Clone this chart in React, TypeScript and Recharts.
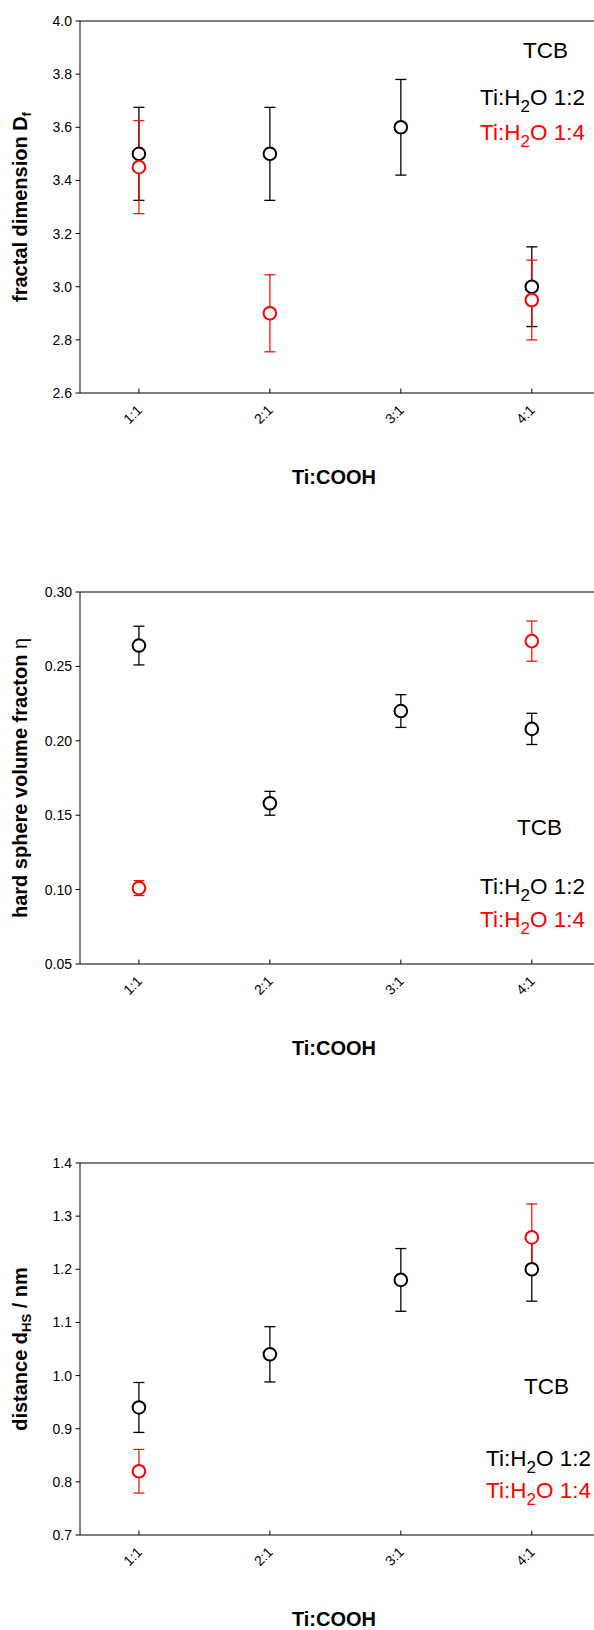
import { ScatterChart, Scatter, XAxis, YAxis, ErrorBar, ReferenceLine, Label } from "recharts"

const categories = ["1:1", "2:1", "3:1", "4:1"]
const xTicks = [1, 2, 3, 4]

// fractal dimension D_f
const dfH2O12 = [3.5, 3.5, 3.6, 3.0]
const dfH2O12Err = [0.175, 0.175, 0.18, 0.15]
const dfH2O14 = [3.45, 2.9, null, 2.95]
const dfH2O14Err = [0.175, 0.145, null, 0.15]
const dfTicks = [2.6, 2.8, 3.0, 3.2, 3.4, 3.6, 3.8, 4.0]

// hard sphere volume fraction
const etaH2O12 = [0.264, 0.158, 0.22, 0.208]
const etaH2O12Err = [0.013, 0.008, 0.011, 0.0105]
const etaH2O14 = [0.101, null, null, 0.267]
const etaH2O14Err = [0.005, null, null, 0.0135]
const etaTicks = [0.05, 0.1, 0.15, 0.2, 0.25, 0.3]

// hard sphere distance d_HS
const dH2O12 = [0.94, 1.04, 1.18, 1.2]
const dH2O12Err = [0.047, 0.052, 0.059, 0.06]
const dH2O14 = [0.82, null, null, 1.26]
const dH2O14Err = [0.041, null, null, 0.063]
const dTicks = [0.7, 0.8, 0.9, 1.0, 1.1, 1.2, 1.3, 1.4]

const BLACK = "#000000"
const RED = "#ff0000"

type Row = { x: number; y: number; err: number }

function toRows(vals: (number | null)[], errs: (number | null)[]): Row[] {
    const rows: Row[] = []
    vals.forEach((v, i) => {
        if (v != null) rows.push({ x: i + 1, y: v, err: errs[i] ?? 0 })
    })
    return rows
}

const circle = (color: string) => (p: any) =>
    <circle cx={p.cx} cy={p.cy} r={6.3} fill="#fff" stroke={color} strokeWidth={2} />

const XTick = (p: any) => {
    const { x, y, payload } = p
    const ax = x + 4
    const ay = y + 18
    return (
        <g>
            <line x1={x} y1={y} x2={x} y2={y - 4.5} stroke="#000" />
            <text x={ax} y={ay} textAnchor="end" fontSize={14} fill="#000" transform={`rotate(-45 ${ax} ${ay})`}>
                {categories[payload.value - 1]}
            </text>
        </g>
    )
}

const Legend = ({ x, y, gap, color, ratio }: { x: number; y: number; gap: number; color: string; ratio: string }) => (
    <text x={x} y={y + gap} fontSize={22.5} fill={color}>
        Ti:H<tspan dy={6.5} fontSize={17}>2</tspan>
        <tspan dy={-6.5}>O {ratio}</tspan>
    </text>
)

interface PanelProps {
    top: number
    ticks: number[]
    digits: number
    black: Row[]
    red: Row[]
    title: (cx: number, cy: number) => any
    tcb: [number, number]
    leg: [number, number]
    gap: number
}

function Panel({ top, ticks, digits, black, red, title, tcb, leg, gap }: PanelProps) {
    const lo = ticks[0]
    const hi = ticks[ticks.length - 1]
    return (
        <div style={{ position: "absolute", left: 0, top, width: 594, height: 487 }}>
            <ScatterChart width={594} height={487} margin={{ top: 20, right: 0, bottom: 0, left: 0 }}>
                <XAxis
                    type="number"
                    dataKey="x"
                    domain={[0.55, 4.475]}
                    ticks={xTicks}
                    interval={0}
                    allowDataOverflow
                    height={95}
                    tickSize={0}
                    tickMargin={0}
                    tickLine={false}
                    axisLine={{ stroke: "#000" }}
                    tick={(p: any) => <XTick {...p} />}
                >
                    <Label value="Ti:COOH" position="insideBottom" offset={4} dx={-3} fill="#000" fontSize={20} fontWeight="bold" />
                </XAxis>
                <YAxis
                    type="number"
                    dataKey="y"
                    domain={[lo, hi]}
                    ticks={ticks}
                    interval={0}
                    allowDataOverflow
                    width={80}
                    tickSize={4.5}
                    tickMargin={3.5}
                    axisLine={{ stroke: "#000" }}
                    tickLine={{ stroke: "#000" }}
                    tick={{ fill: "#000", fontSize: 14 }}
                    tickFormatter={(v: number) => v.toFixed(digits)}
                >
                    <Label content={(p: any) => title(27, p.viewBox.y + p.viewBox.height / 2)} />
                </YAxis>
                <ReferenceLine y={hi} stroke="#000" />
                <Scatter data={black} dataKey="y" isAnimationActive={false} shape={circle(BLACK)}>
                    <ErrorBar dataKey="err" direction="y" width={5.5} stroke={BLACK} strokeWidth={1.3} />
                </Scatter>
                <Scatter data={red} dataKey="y" isAnimationActive={false} shape={circle(RED)}>
                    <ErrorBar dataKey="err" direction="y" width={5.5} stroke={RED} strokeWidth={1.2} />
                </Scatter>
                <text x={tcb[0]} y={tcb[1]} fontSize={22.5} fill={BLACK}>TCB</text>
                <Legend x={leg[0]} y={leg[1]} gap={0} color={BLACK} ratio="1:2" />
                <Legend x={leg[0]} y={leg[1]} gap={gap} color={RED} ratio="1:4" />
            </ScatterChart>
        </div>
    )
}

const yTitle = (body: any) => (cx: number, cy: number) => (
    <text x={cx} y={cy} textAnchor="middle" fontSize={20} fontWeight="bold" fill="#000" transform={`rotate(-90 ${cx} ${cy})`}>
        {body}
    </text>
)

export default function App() {
    return (
        <div
            style={{
                position: "absolute",
                left: 0,
                top: 0,
                width: 594,
                height: 1630,
                background: "#fff",
                fontFamily: '"Liberation Sans", Arial, sans-serif',
                overflow: "hidden",
            }}
        >
            <Panel
                top={0.7}
                ticks={dfTicks}
                digits={1}
                black={toRows(dfH2O12, dfH2O12Err)}
                red={toRows(dfH2O14, dfH2O14Err)}
                title={yTitle(<>fractal dimension D<tspan dy={4} fontSize={13}>f</tspan></>)}
                tcb={[523, 56.6]}
                leg={[480, 104.3]}
                gap={35}
            />
            <Panel
                top={572.3}
                ticks={etaTicks}
                digits={2}
                black={toRows(etaH2O12, etaH2O12Err)}
                red={toRows(etaH2O14, etaH2O14Err)}
                title={yTitle(<>hard sphere volume fracton <tspan fontWeight="normal">η</tspan></>)}
                tcb={[517, 262.7]}
                leg={[480, 322.2]}
                gap={33}
            />
            <Panel
                top={1143}
                ticks={dTicks}
                digits={1}
                black={toRows(dH2O12, dH2O12Err)}
                red={toRows(dH2O14, dH2O14Err)}
                title={yTitle(<>distance d<tspan dy={4} fontSize={13}>HS</tspan><tspan dy={-4}> / nm</tspan></>)}
                tcb={[524, 250.6]}
                leg={[486, 323]}
                gap={32}
            />
        </div>
    )
}
